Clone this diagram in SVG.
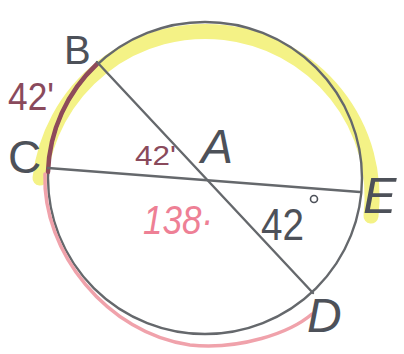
<svg xmlns="http://www.w3.org/2000/svg" width="404" height="354" viewBox="0 0 404 354">
<style>
.lbl{font-family:"Liberation Sans",Arial,sans-serif;fill:#4d5159}
.it{font-style:italic}
.hand{font-family:"Liberation Sans",Arial,sans-serif}
.ln{stroke:#65686c;stroke-width:2.4;fill:none;stroke-linecap:round}
</style>
<rect width="404" height="354" fill="#ffffff"/>
<g id="highlights">
<path d="M40,178 A166,165 0 1 1 371,216" fill="none" stroke="#f4f286" stroke-width="15" stroke-linecap="round"/>
</g>
<g id="circle">
<ellipse cx="205" cy="178" rx="157" ry="156" class="ln"/>
</g>
<g id="arcs">
<path d="M97,64 A156,155 0 0 0 48,172" fill="none" stroke="#8e4a5a" stroke-width="4.5" stroke-linecap="round"/>
<path d="M45,174 C42,252 108,334 190,345 C240,350 290,333 312,314" fill="none" stroke="#f0a2ab" stroke-width="3.5" stroke-linecap="round"/>
</g>
<g id="connectors">
<line x1="48" y1="168" x2="360" y2="192" class="ln"/>
<line x1="97" y1="62" x2="313" y2="293" class="ln"/>
</g>
<g id="node-B"><text x="64" y="64" class="lbl" font-size="40">B</text></g>
<g id="node-C"><text x="8" y="173" class="lbl" font-size="46">C</text></g>
<g id="node-A"><text x="201" y="163" class="lbl it" font-size="48">A</text></g>
<g id="node-E"><text x="363" y="213" class="lbl it" font-size="50">E</text></g>
<g id="node-D"><text x="307" y="332" class="lbl it" font-size="48">D</text></g>
<g id="labels">
<text x="8" y="110" class="hand" font-size="38" fill="#8a4a5c" textLength="46" lengthAdjust="spacingAndGlyphs">42'</text>
<text x="135" y="165" class="hand" font-size="27" fill="#8a4a5c" textLength="41" lengthAdjust="spacingAndGlyphs">42'</text>
<text x="143" y="234" class="hand it" font-size="40" fill="#ee8095" textLength="70" lengthAdjust="spacingAndGlyphs">138·</text>
<text x="261" y="240" class="lbl" font-size="44" textLength="43" lengthAdjust="spacingAndGlyphs">42</text>
<circle cx="314" cy="199" r="3.5" fill="none" stroke="#4d5159" stroke-width="1.6"/>
</g>
</svg>
